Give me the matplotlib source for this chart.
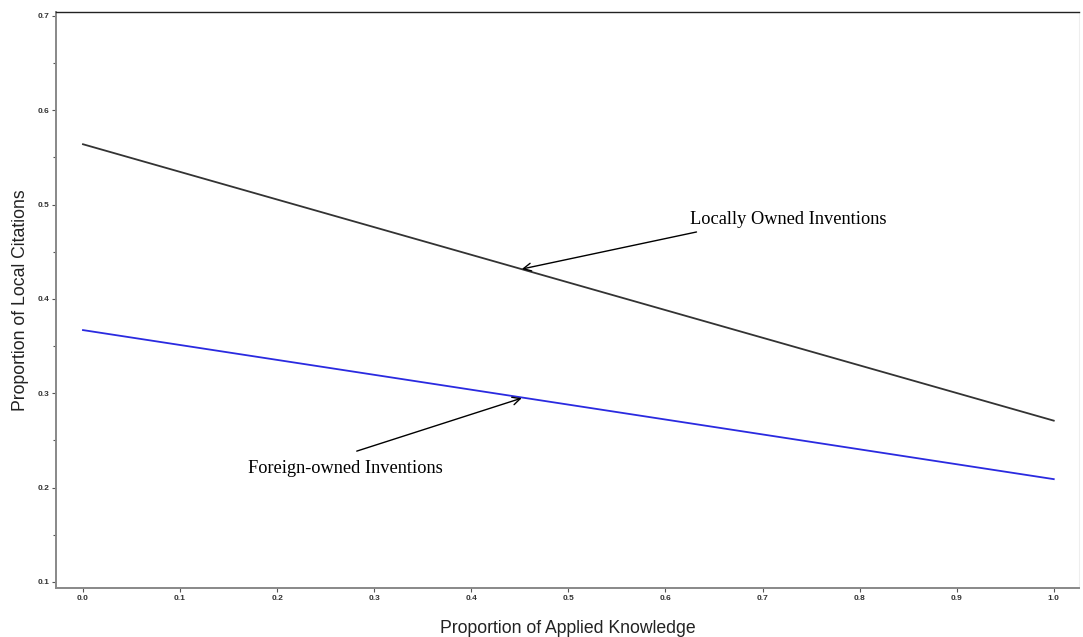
import matplotlib
matplotlib.use("Agg")
import matplotlib.pyplot as plt
from matplotlib.ticker import MultipleLocator

# predicted proportion of local citations vs proportion of applied knowledge
applied = [0.0, 1.0]
local_owned = [0.564, 0.271]
foreign_owned = [0.367, 0.209]

x_ticks = [0.0, 0.1, 0.2, 0.3, 0.4, 0.5, 0.6, 0.7, 0.8, 0.9, 1.0]
y_ticks = [0.1, 0.2, 0.3, 0.4, 0.5, 0.6, 0.7]

plt.rcParams["font.family"] = ["Liberation Sans", "DejaVu Sans"]

fig = plt.figure(figsize=(10.83, 6.37), dpi=100)
ax = fig.add_axes([0.0517, 0.0769, 0.9446, 0.9043])

ax.plot(applied, local_owned, color="#333333", lw=1.3)
ax.plot(applied, foreign_owned, color="#2a2ae0", lw=1.3)

ax.set_xlim(-0.0278, 1.026)
ax.set_ylim(0.0936, 0.7042)
ax.set_xticks(x_ticks)
ax.set_xticklabels([f"{v:.1f}" for v in x_ticks])
ax.set_yticks(y_ticks)
ax.set_yticklabels([f"{v:.1f}" for v in y_ticks])
ax.yaxis.set_minor_locator(MultipleLocator(0.05))
ax.tick_params(axis="both", which="major", labelsize=6, length=3,
               width=0.8, color="#555555", labelcolor="#333333", pad=2)
ax.tick_params(axis="y", which="minor", length=2, width=0.8, color="#555555")
for lab in ax.get_xticklabels() + ax.get_yticklabels():
    lab.set_fontweight("bold")

ax.spines["left"].set_color("#888888")
ax.spines["left"].set_linewidth(1.4)
ax.spines["bottom"].set_color("#888888")
ax.spines["bottom"].set_linewidth(1.4)
ax.spines["top"].set_color("#222222")
ax.spines["top"].set_linewidth(1.0)
ax.spines["right"].set_color("#eeeeee")
ax.spines["right"].set_linewidth(0.8)

ax.set_xlabel("Proportion of Applied Knowledge", fontsize=12.7, labelpad=13,
              color="#222222")
ax.set_ylabel("Proportion of Local Citations", fontsize=12.7, labelpad=6,
              color="#222222")

# labels and arrows placed separately, as in the original
serif = ["Liberation Serif", "DejaVu Serif"]
ax.text(0.625, 0.4845, "Locally Owned Inventions", fontsize=13.2,
        family=serif, ha="left", va="center")
ax.text(0.170, 0.2200, "Foreign-owned Inventions", fontsize=13.2,
        family=serif, ha="left", va="center")

arrow = dict(arrowstyle="->", color="black", lw=1.0,
             shrinkA=0, shrinkB=0, mutation_scale=14)
ax.annotate("", xy=(0.452, 0.4317), xytext=(0.632, 0.471), arrowprops=arrow)
ax.annotate("", xy=(0.452, 0.2949), xytext=(0.282, 0.2387), arrowprops=arrow)

fig.savefig("out.png", dpi=100)
